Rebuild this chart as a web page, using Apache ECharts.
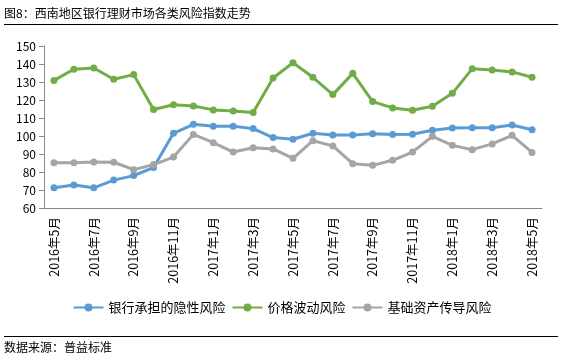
<!DOCTYPE html>
<html><head><meta charset="utf-8">
<script src="https://cdn.jsdelivr.net/npm/echarts@6/dist/echarts.min.js"></script>
<style>html,body{margin:0;padding:0;background:#fff}#c{width:564px;height:364px}</style>
</head><body><div id="c"></div>
<script>
const categories = ['2016年5月','2016年6月','2016年7月','2016年8月','2016年9月','2016年10月','2016年11月','2016年12月',
'2017年1月','2017年2月','2017年3月','2017年4月','2017年5月','2017年6月','2017年7月','2017年8月','2017年9月','2017年10月','2017年11月','2017年12月',
'2018年1月','2018年2月','2018年3月','2018年4月','2018年5月'];
const bankRisk = [71.3,72.8,71.2,75.5,78.0,82.5,101.5,106.5,105.4,105.4,104.1,99.1,98.2,101.5,100.6,100.6,101.2,100.9,101.0,103.2,104.4,104.6,104.6,106.1,103.5];
const priceRisk = [130.9,137.1,137.8,131.5,134.1,114.7,117.4,116.7,114.5,113.9,113.0,132.2,140.7,132.6,123.0,134.8,119.1,115.6,114.3,116.5,123.7,137.4,136.7,135.6,132.6];
const assetRisk = [85.2,85.2,85.6,85.4,81.3,84.1,88.3,100.9,96.3,91.1,93.5,92.8,87.6,97.4,94.5,84.6,83.7,86.5,91.1,99.8,94.8,92.4,95.6,100.4,90.9];
const seriesNames = ['银行承担的隐性风险','价格波动风险','基础资产传导风险'];
const colors = ['#5B9BD5','#70AD47','#A5A5A5'];
const font = '"Noto Sans CJK SC", sans-serif';

const chart = echarts.init(document.getElementById('c'));
const mk = (name, data, color) => ({
  name, type:'line', data, symbol:'circle', symbolSize:7,
  lineStyle:{width:3,color}, itemStyle:{color}
});
chart.setOption({
  animation:false,
  textStyle:{fontFamily:font},
  grid:{left:44,right:22,top:46,bottom:156},
  xAxis:{type:'category',data:categories,boundaryGap:true,
    axisLine:{lineStyle:{color:'#898989',width:1}},
    axisTick:{interval:1,length:5,lineStyle:{color:'#898989'}},
    axisLabel:{interval:1,rotate:90,color:'#000',fontSize:12.5,margin:9,fontFamily:font}},
  yAxis:{type:'value',min:60,max:150,interval:10,
    splitLine:{show:false},
    axisLine:{show:true,lineStyle:{color:'#898989'}},
    axisTick:{show:true,length:5,lineStyle:{color:'#898989'}},
    axisLabel:{color:'#000',fontSize:12,margin:8,fontFamily:font}},
  legend:{bottom:45,left:'center',itemWidth:30,itemHeight:10,itemGap:6,
    textStyle:{fontSize:13,color:'#000',fontFamily:font},
    data:seriesNames},
  series:[mk(seriesNames[0],bankRisk,colors[0]),mk(seriesNames[1],priceRisk,colors[1]),mk(seriesNames[2],assetRisk,colors[2])],
  graphic:[
    {type:'text',left:4,top:7,style:{text:'图8：西南地区银行理财市场各类风险指数走势',font:'12px '+font,fill:'#000'}},
    {type:'line',shape:{x1:4,y1:24.5,x2:558,y2:24.5},style:{stroke:'#000',lineWidth:1}},
    {type:'line',shape:{x1:4,y1:336.5,x2:558,y2:336.5},style:{stroke:'#000',lineWidth:1}},
    {type:'text',left:4,top:341,style:{text:'数据来源：普益标准',font:'12px '+font,fill:'#000'}}
  ]
});
</script></body></html>
